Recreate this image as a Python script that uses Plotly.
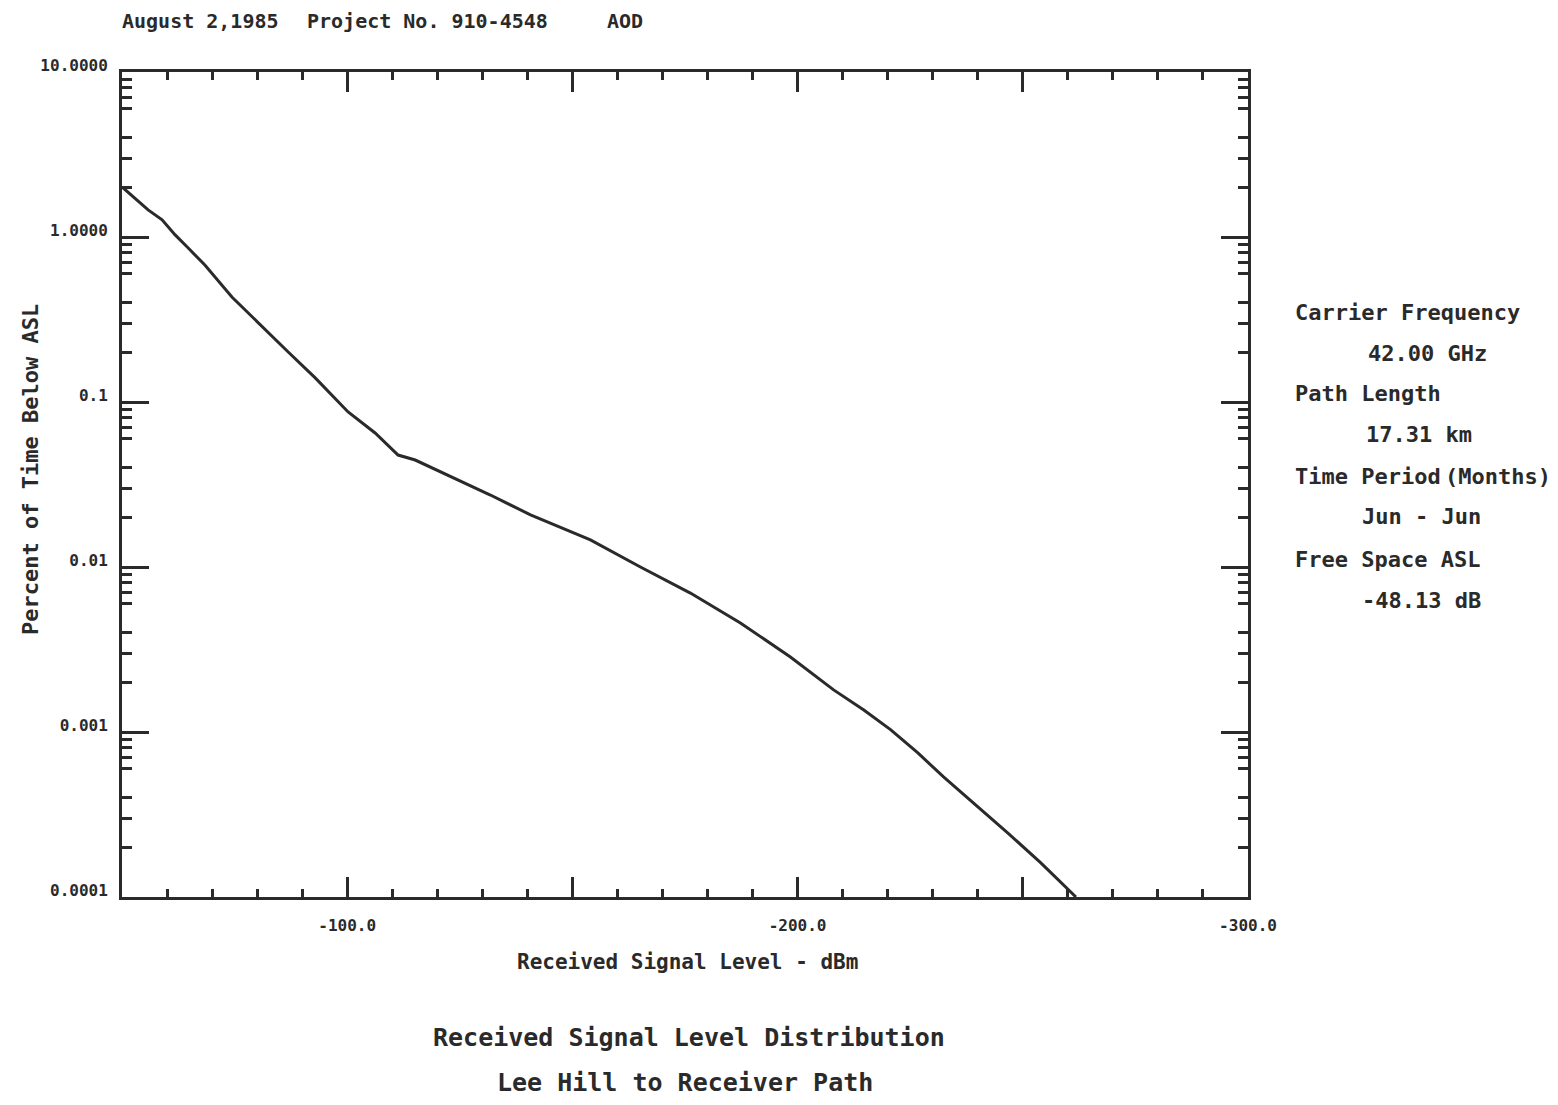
import plotly.graph_objects as go

# ---- data ----
rsl_dbm = [-50.0, -55.8, -58.9, -61.8, -64.7, -68.4, -74.4, -81.8, -86.9, -92.9,
           -100.2, -106.2, -111.3, -115.1, -120.7, -131.8, -140.7, -154.0, -165.1,
           -176.2, -187.3, -198.4, -208.0, -214.7, -220.7, -226.7, -232.4, -239.1,
           -246.7, -254.0, -261.8]
pct_time = [2.01, 1.46, 1.27, 1.03, 0.857, 0.676, 0.433, 0.273, 0.201, 0.140,
            0.087, 0.0649, 0.0477, 0.0445, 0.0377, 0.0273, 0.0207, 0.0146, 0.0100,
            0.00695, 0.00458, 0.00285, 0.00180, 0.00136, 0.00103, 0.000747,
            0.000534, 0.000371, 0.000244, 0.000161, 0.0001]

x_tickvals = [-50, -100, -150, -200, -250, -300]
x_ticktext = ["", "-100.0", "", "-200.0", "", "-300.0"]
y_tickvals = [10, 1, 0.1, 0.01, 0.001, 0.0001]
y_ticktext = ["10.0000", "1.0000", "0.1", "0.01", "0.001", "0.0001"]
y_half = [5, 0.5, 0.05, 0.005, 0.0005]
y_minor = [m * 10 ** e for e in range(-4, 1) for m in (2, 3, 4, 6, 7, 8, 9)]

info_lines = ["Carrier Frequency", "42.00 GHz", "Path Length", "17.31 km",
              "Time Period<span style='font-size:7px'> </span>(Months)", "Jun - Jun",
              "Free Space ASL", "-48.13 dB"]
header_parts = ["August 2,1985", "Project No. 910-4548", "AOD"]
caption = ["Received Signal Level Distribution", "Lee Hill to Receiver Path"]
x_title = "Received Signal Level - dBm"
y_title = "Percent of Time Below ASL"

# ---- layout geometry (page pixels; page body has an 8px margin) ----
OFF = 8
FW, FH = 1558 - 2 * OFF, 1105 - 2 * OFF
L, R, T, B = 122, 1248, 72, 897
PW, PH = R - L, B - T


def px(x):
    return (x - L) / PW


def py(y):
    return (B - y) / PH


INK = "#2a2a2a"
FONT = "DejaVu Sans Mono"

fig = go.Figure()
fig.add_trace(go.Scatter(x=rsl_dbm, y=pct_time, mode="lines",
                         line=dict(color=INK, width=3), showlegend=False))

fig.update_layout(
    width=FW, height=FH,
    margin=dict(l=L - OFF, r=FW - (R - OFF), t=T - OFF, b=FH - (B - OFF), pad=0),
    paper_bgcolor="white", plot_bgcolor="white",
    font=dict(family=FONT, color=INK, weight="bold"),
    xaxis=dict(range=[-50, -300], tickmode="array", tickvals=x_tickvals,
               ticktext=x_ticktext, ticks="inside", ticklen=20, tickwidth=3,
               tickcolor=INK, showline=True, linewidth=3, linecolor=INK,
               mirror="allticks", showgrid=False, zeroline=False,
               tickfont=dict(size=16, family=FONT, weight="bold"),
               ticklabelstandoff=12,
               minor=dict(tickmode="linear", tick0=-50, dtick=10, ticks="inside",
                          ticklen=8, tickwidth=3, tickcolor=INK, showgrid=False)),
    yaxis=dict(type="log", range=[-4, 1], tickmode="array", tickvals=y_tickvals,
               ticktext=y_ticktext, ticks="inside", ticklen=27, tickwidth=3,
               tickcolor=INK, showline=True, linewidth=3, linecolor=INK,
               mirror="allticks", showgrid=False, zeroline=False,
               tickfont=dict(size=16, family=FONT, weight="bold"),
               ticklabelstandoff=8, ticklabelshift=-7,
               minor=dict(tickmode="array", tickvals=y_minor, ticks="inside",
                          ticklen=10, tickwidth=3, tickcolor=INK, showgrid=False)),
    yaxis2=dict(type="log", range=[-4, 1], overlaying="y", side="left",
                tickmode="array", tickvals=y_half, ticks="inside", ticklen=18,
                tickwidth=3, tickcolor=INK, showticklabels=False, showline=False,
                mirror="allticks", showgrid=False, zeroline=False),
)

anns = []
# header
for txt, x0 in zip(header_parts, [120, 305, 605]):
    anns.append(dict(text=txt, x=px(x0), y=py(21), xanchor="left", yanchor="middle",
                     font=dict(size=20)))
# right info block
info_x = [1293, 1366, 1293, 1364, 1293, 1360, 1293, 1360]
info_y = [312, 353, 394, 435, 476, 517, 559, 600]
for txt, x0, y0 in zip(info_lines, info_x, info_y):
    anns.append(dict(text=txt, x=px(x0), y=py(y0), xanchor="left", yanchor="middle",
                     font=dict(size=22)))
# axis titles
anns.append(dict(text=x_title, x=px(688), y=py(962), xanchor="center", yanchor="middle",
                 font=dict(size=21)))
anns.append(dict(text=y_title, x=px(30), y=py(470), xanchor="center", yanchor="middle",
                 textangle=-90, font=dict(size=22)))
# caption
for txt, x0, y0 in zip(caption, [689, 685], [1037, 1082]):
    anns.append(dict(text=txt, x=px(x0), y=py(y0), xanchor="center", yanchor="middle",
                     font=dict(size=25)))

for a in anns:
    a.update(xref="paper", yref="paper", showarrow=False)
fig.update_layout(annotations=anns)

fig.write_html("out.html")
